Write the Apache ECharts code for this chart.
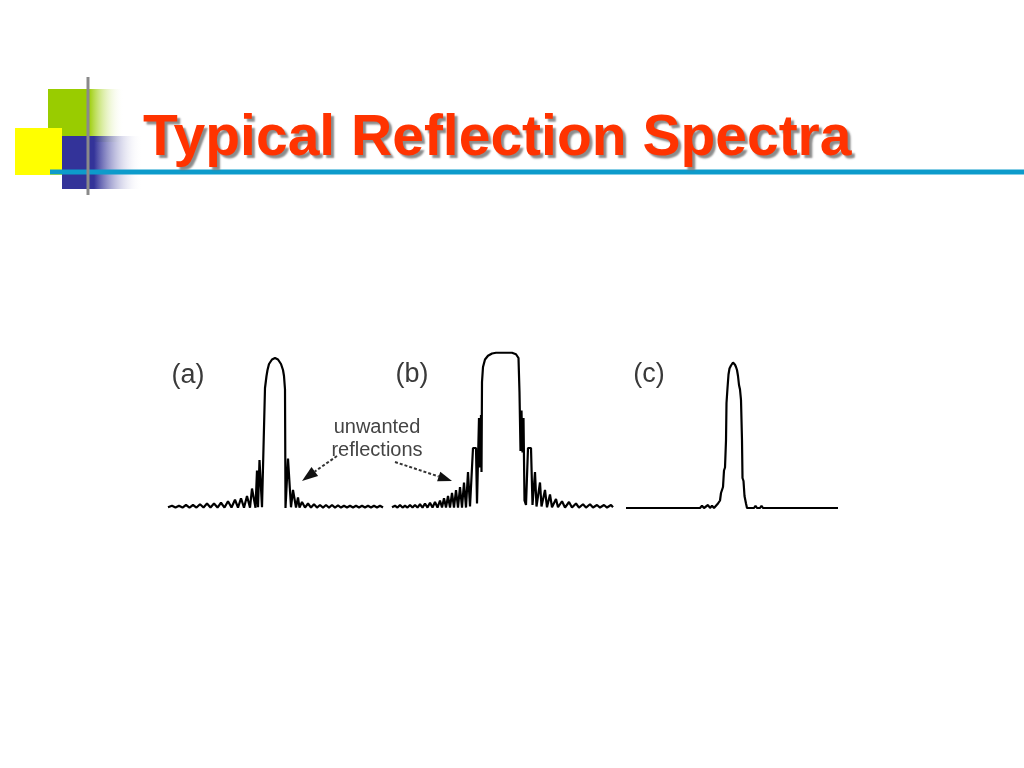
<!DOCTYPE html>
<html>
<head>
<meta charset="utf-8">
<script src="https://cdn.jsdelivr.net/npm/echarts@6/dist/echarts.min.js"></script>
<style>
html,body{margin:0;padding:0;background:#fff;}
#chart{width:1024px;height:768px;}
</style>
</head>
<body>
<div id="chart"></div>
<script>
// Panel labels and annotation
const panelLabels = ['(a)', '(b)', '(c)'];
const annotationLines = ['unwanted', 'reflections'];
const titleText = 'Typical Reflection Spectra';

// Spectrum (a): [wavelength (arb.), reflectance (%)]
const specA = [[168,0.5],[172,1.5],[175.5,0.3],[179,1.5],[182.5,0.3],[186,2],[189.5,0.3],[193,2],[196.5,0.3],[200,2.5],[203.5,0.3],[207,3],[210.5,0.3],[214,3],[217.5,0.3],[221,3.5],[224.5,0.3],[228,4.5],[231.5,0.3],[235,5.5],[238,0.3],[241,6.5],[244,0.2],[247,8],[250,0.2],[252,13],[254,14],[255.5,0.2],[257,25],[258,0.5],[259.5,32],[261,32],[262,0.5],[264,0],[265,80],[266.5,88],[267.5,92],[269,96],[272,99],[275,100],[278,99],[281,96],[283,92],[284,88],[285,79],[285.5,0],[287,0.5],[288,33],[290,32],[291,0.5],[293,12],[295,13],[296,0.3],[298,7],[299.5,0.3],[302,4],[305,0.3],[308,3],[311,0.3],[314,2.5],[317,0.3],[320,2],[323,0.3],[326,2],[329,0.3],[332,2],[335,0.3],[338,1.8],[341,0.3],[344,1.5],[347,0.3],[350,1.5],[353,0.3],[356,1.5],[359,0.3],[362,1.5],[365,0.3],[368,1.5],[371,0.3],[374,1.5],[377,0.3],[380,1.5],[383,0.3]];

// Spectrum (b)
const specB = [[392,0.5],[395,1.5],[397.5,0.3],[400,2],[402.5,0.3],[405,1.5],[407.5,0.3],[410,2],[412.5,0.3],[415,2],[417.5,0.3],[420,2.5],[422.5,0.3],[425,3],[427.5,0.3],[430,3.5],[432.5,0.3],[435,4],[437.5,0.3],[440,5],[442,0.3],[444,6.5],[446,0.3],[448,8],[450,0.3],[452,10],[454,0.3],[456,12],[458,0.3],[460,14],[462,0.3],[464,17],[466,0.3],[468,24],[470,1],[473,40],[476,40],[477,3],[479,60],[480,27],[481,62],[481.5,24],[482,84],[483,94],[485,99],[488,101.5],[492,103],[496,103.5],[505,103.5],[512,103.5],[516,102.5],[518.5,100],[519.5,77],[520.5,38],[521.5,65],[522.5,37],[523.5,60],[524.5,5],[526,2],[528,40],[531,40],[532.5,2],[535,24],[536.5,1],[540,17],[541.5,1],[545,12],[547,0.5],[550,9],[552,0.5],[556,6],[558,0.5],[562,4.5],[565,0.3],[569,4],[572,0.3],[576,3],[579,0.3],[583,2.5],[586,0.3],[590,2.5],[593,0.3],[597,2],[600,0.3],[604,2],[607,0.3],[611,2],[613,0.5]];

// Spectrum (c)
const specC = [[626,0],[700,0],[702,1.5],[704,0],[706,0],[708,2],[710,0],[712,1.5],[714,0],[716,1.5],[718,3],[720,5],[721,10],[722,11],[723,14],[724,25],[725,27],[726,45],[726.5,70],[727.5,80],[728.5,89],[729.5,93],[731,95],[732,96],[733,97],[734,96.5],[735,95.5],[736,94],[737,92],[738,88],[739,82],[740,79],[741,72],[742,45],[742.5,20],[743.5,18],[744.5,8],[746,3],[747,0],[754,0],[755.5,1.5],[757,0],[760,0],[761.5,1.5],[763,0],[838,0]];

const chart = echarts.init(document.getElementById('chart'), null, {renderer:'canvas'});

const grids = [
  {left:168, top:343, width:217, height:165},
  {left:390, top:343, width:225, height:165},
  {left:626, top:343, width:212, height:165}
];
const xr = [[168,385],[390,615],[626,838]];
const specs = [specA, specB, specC];

const option = {
  backgroundColor:'#ffffff',
  animation:false,
  grid: grids.map(g => Object.assign({containLabel:false}, g)),
  xAxis: xr.map((r,i) => ({type:'value', gridIndex:i, min:r[0], max:r[1], show:false})),
  yAxis: xr.map((r,i) => ({type:'value', gridIndex:i, min:0, max:110, show:false})),
  series: specs.map((d,i) => ({
    type:'line', xAxisIndex:i, yAxisIndex:i, data:d, showSymbol:false, symbol:'none',
    lineStyle:{color:'#000', width:2.2}, silent:true
  })),
  graphic: [
    // decorative squares
    {type:'rect', shape:{x:48,y:89,width:76,height:53}, style:{fill:new echarts.graphic.LinearGradient(0,0,1,0,[{offset:0,color:'#99CC00'},{offset:0.53,color:'#99CC00'},{offset:1,color:'rgba(255,255,255,0)'}])}, z:1},
    {type:'rect', shape:{x:15,y:128,width:47,height:47}, style:{fill:'#FFFF00'}, z:2},
    {type:'rect', shape:{x:62,y:136,width:80,height:53}, style:{fill:new echarts.graphic.LinearGradient(0,0,1,0,[{offset:0,color:'#333399'},{offset:0.4,color:'#333399'},{offset:1,color:'rgba(255,255,255,0)'}])}, z:3},
    {type:'line', shape:{x1:50,y1:172,x2:1024,y2:172}, style:{stroke:'#0D9BCB', lineWidth:5}, z:4},
    {type:'line', shape:{x1:88,y1:77,x2:88,y2:195}, style:{stroke:'#8A8A8A', lineWidth:3}, z:5},
    // title
    {type:'text', x:143, y:139, style:{text:titleText, font:'bold 57px "Liberation Sans", Arial, sans-serif', fill:'#FF3300', textVerticalAlign:'middle', textAlign:'left', textShadowColor:'rgba(110,110,110,0.8)', textShadowOffsetX:3, textShadowOffsetY:3, textShadowBlur:2}, z:10},
    // panel labels
    {type:'text', x:188, y:376, style:{text:panelLabels[0], font:'27px "Liberation Sans", Arial, sans-serif', fill:'#3a3a3a', textAlign:'center', textVerticalAlign:'middle'}, z:10},
    {type:'text', x:412, y:375, style:{text:panelLabels[1], font:'27px "Liberation Sans", Arial, sans-serif', fill:'#3a3a3a', textAlign:'center', textVerticalAlign:'middle'}, z:10},
    {type:'text', x:649, y:375, style:{text:panelLabels[2], font:'27px "Liberation Sans", Arial, sans-serif', fill:'#3a3a3a', textAlign:'center', textVerticalAlign:'middle'}, z:10},
    // annotation
    {type:'text', x:377, y:427, style:{text:annotationLines[0], font:'20px "Liberation Sans", Arial, sans-serif', fill:'#444', textAlign:'center', textVerticalAlign:'middle'}, z:10},
    {type:'text', x:377, y:450, style:{text:annotationLines[1], font:'20px "Liberation Sans", Arial, sans-serif', fill:'#444', textAlign:'center', textVerticalAlign:'middle'}, z:10},
    // arrows
    {type:'line', shape:{x1:337,y1:456,x2:314.8,y2:471.5}, style:{stroke:'#333', lineWidth:2, lineDash:[3,2]}, z:10},
    {type:'polygon', shape:{points:[[302,481],[318.1,475.9],[311.5,467.1]]}, style:{fill:'#111'}, z:10},
    {type:'line', shape:{x1:395,y1:462,x2:438.7,y2:476.5}, style:{stroke:'#333', lineWidth:2, lineDash:[3,2]}, z:10},
    {type:'polygon', shape:{points:[[452,481],[437.1,481.2],[440.3,471.8]]}, style:{fill:'#111'}, z:10}
  ]
};
chart.setOption(option);
</script>
</body>
</html>
